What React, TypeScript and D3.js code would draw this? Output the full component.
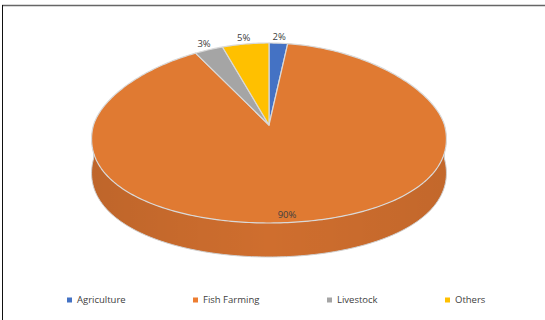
import React from "react";
import * as d3 from "d3";

const categories = ["Agriculture", "Fish Farming", "Livestock", "Others"];
const values = [2, 90, 3, 5];
const labels = ["2%", "90%", "3%", "5%"];
const colors = ["#4472C4", "#E07A32", "#A5A5A5", "#FFC000"];
const legendColors = ["#4472C4", "#ED7D31", "#A5A5A5", "#FFC000"];
const sideColors = ["#34599A", "#CF6E2E", "#838383", "#C99700"];

const W = 545;
const H = 320;
const cx = 269;
const cy = 125;
const rx = 175.5;
const ryTop = 82;
const ryBot = 98;
const depth = 34;
const persp = 0.15;

function proj(t: number, r = 1, dy = 0): [number, number] {
  const c = Math.cos(t);
  const ry = c > 0 ? ryTop : ryBot;
  const k = 1 - persp * c;
  return [cx + rx * r * Math.sin(t) * k, cy - ry * r * c + dy];
}

function arcPts(a0: number, a1: number, dy = 0): [number, number][] {
  const n = Math.max(2, Math.ceil(((a1 - a0) * 180) / Math.PI));
  const pts: [number, number][] = [];
  for (let i = 0; i <= n; i++) pts.push(proj(a0 + ((a1 - a0) * i) / n, 1, dy));
  return pts;
}

export default function App() {
  const pie = d3.pie<number>().sort(null).value((d) => d).startAngle(0).endAngle(2 * Math.PI);
  const arcs = pie(values);
  const line = d3.line();

  const labelPos = arcs.map((a, i) => {
    const mid = (a.startAngle + a.endAngle) / 2;
    if (i === 1) {
      const [, y] = proj(mid, 0.93);
      return [cx + 18, y];
    }
    const [x, y] = proj(mid, 1.08);
    return [x, y];
  });

  const sides = arcs
    .map((a, i) => {
      const s = Math.max(a.startAngle, Math.PI / 2);
      const e = Math.min(a.endAngle, (3 * Math.PI) / 2);
      if (e <= s) return null;
      const top = arcPts(s, e);
      const bot = arcPts(s, e, depth).reverse();
      return { i, d: line([...top, ...bot])! + "Z" };
    })
    .filter(Boolean) as { i: number; d: string }[];

  const pL = proj(Math.PI / 2);
  const pR = proj((3 * Math.PI) / 2);

  return (
    <svg width={W} height={H} style={{ position: "absolute", left: 0, top: 0, background: "#fff" }}>
      <defs>
        <linearGradient id="sideGrad" x1="0" x2="1" y1="0" y2="0">
          <stop offset="0" stopColor="#000" stopOpacity="0.08" />
          <stop offset="0.5" stopColor="#000" stopOpacity="0" />
          <stop offset="1" stopColor="#000" stopOpacity="0.06" />
        </linearGradient>
      </defs>
      <line x1={2} y1={5.5} x2={W} y2={5.5} stroke="#666" strokeWidth={1.5} />
      <line x1={2.5} y1={5} x2={2.5} y2={H} stroke="#111" strokeWidth={1} />

      {sides.map((s) => (
        <g key={"side" + s.i}>
          <path d={s.d} fill={sideColors[s.i]} />
          <path d={s.d} fill="url(#sideGrad)" />
        </g>
      ))}
      <path
        d={line([...arcPts(Math.PI / 2, (3 * Math.PI) / 2, depth)])!}
        fill="none"
        stroke="#d0d0d0"
        strokeWidth={1}
      />
      <line x1={pL[0]} y1={cy} x2={pL[0]} y2={cy + depth} stroke="#d0d0d0" />
      <line x1={pR[0]} y1={cy} x2={pR[0]} y2={cy + depth} stroke="#d0d0d0" />

      {arcs.map((a, i) => {
        const pts = arcPts(a.startAngle, a.endAngle);
        const d = line([[cx, cy], ...pts])! + "Z";
        return <path key={i} d={d} fill={colors[i]} stroke="#d9d9d9" strokeWidth={1.2} strokeLinejoin="round" />;
      })}

      {arcs.map((a, i) => (
        <text
          key={"l" + i}
          x={labelPos[i][0]}
          y={labelPos[i][1]}
          textAnchor="middle"
          dominantBaseline="central"
          fontFamily="'Open Sans', 'Noto Sans', sans-serif"
          fontSize={9.5}
          fill="#404040"
        >
          {labels[i]}
        </text>
      ))}

      {categories.map((c, i) => {
        const lx = [67, 193, 327, 445][i];
        return (
          <g key={"lg" + i}>
            <rect x={lx} y={297.5} width={5} height={5} fill={legendColors[i]} />
            <text
              x={lx + 10}
              y={303}
              fontFamily="'Open Sans', 'Noto Sans', sans-serif"
              fontSize={9.5}
              fill="#404040"
            >
              {c}
            </text>
          </g>
        );
      })}
    </svg>
  );
}
